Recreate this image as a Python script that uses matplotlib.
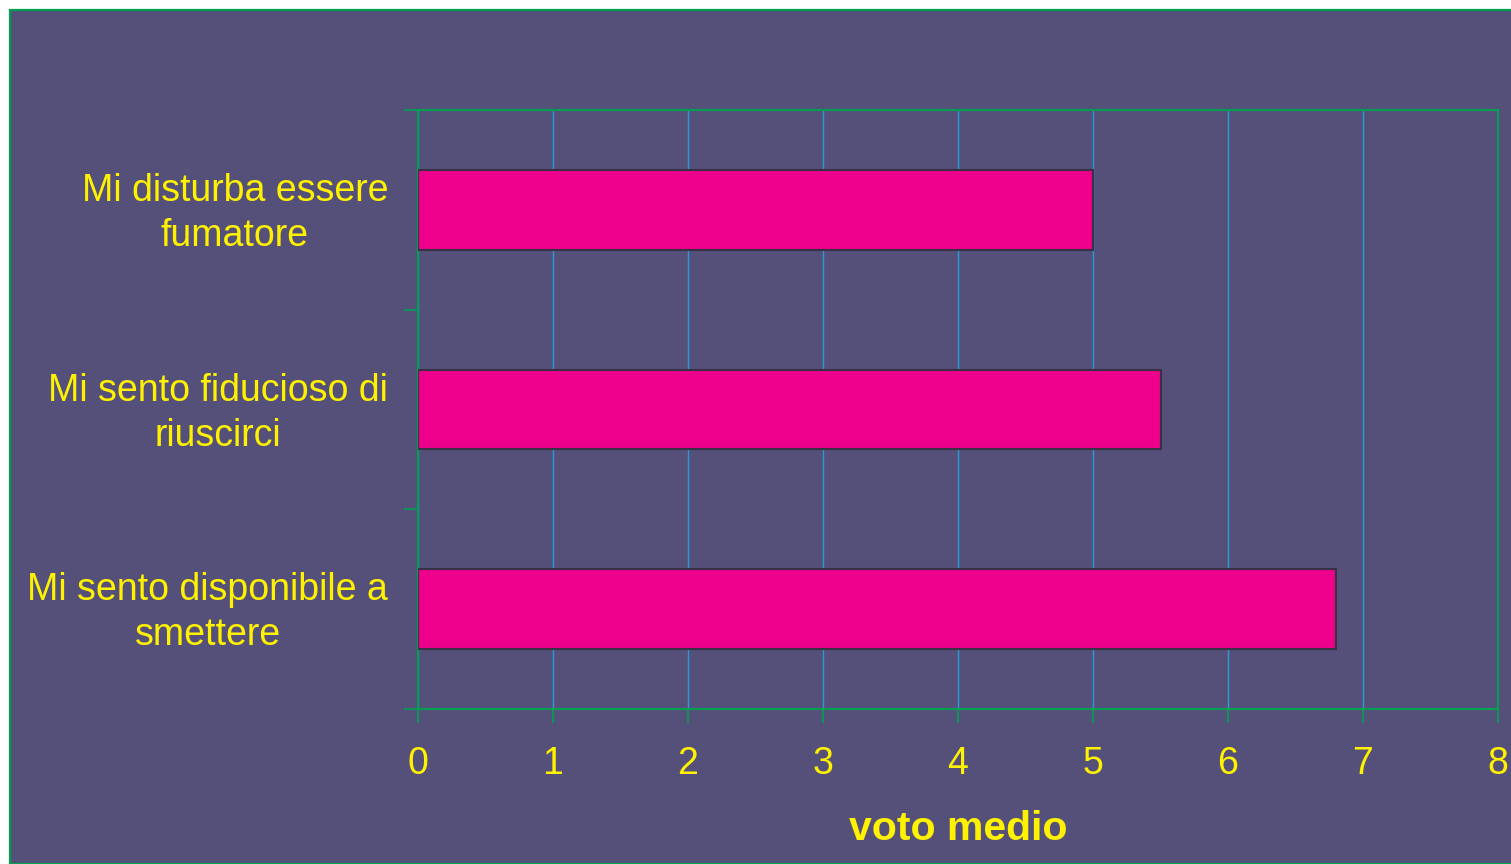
import numpy as np
import matplotlib
matplotlib.use('Agg')
import matplotlib.pyplot as plt
from matplotlib.patches import Rectangle

# data
categories = ['Mi disturba essere\nfumatore',
              'Mi sento fiducioso di\nriuscirci',
              'Mi sento disponibile a\nsmettere']
values = [5.0, 5.5, 6.8]
x_ticks = [0, 1, 2, 3, 4, 5, 6, 7, 8]

bg = '#55507A'
green = '#00A050'
yellow = '#FFF200'
grid_blue = '#2A9AD8'
bar_col = '#EC008C'

plt.rcParams['font.family'] = ['Liberation Sans', 'DejaVu Sans']

fig = plt.figure(figsize=(15.11, 8.64), dpi=100)
fig.patch.set_facecolor('white')
# purple panel with green frame
fig.patches.append(Rectangle((10 / 1511, 0), 1.2, (864 - 10) / 864, transform=fig.transFigure,
                             facecolor=bg, edgecolor=green, linewidth=1.6, zorder=-10))

ax = fig.add_axes([418 / 1511, 1 - 709 / 864, 1080 / 1511, 599 / 864])
ax.set_facecolor(bg)

# top category at top
ypos = np.arange(len(categories))[::-1]
ax.barh(ypos, values, height=0.4, color=bar_col, edgecolor='#3A3045', linewidth=1.5, zorder=3)

ax.set_xlim(0, 8)
ax.set_ylim(-0.5, len(categories) - 0.5)
ax.set_xticks(x_ticks)
ax.set_xticklabels([str(t) for t in x_ticks])
ax.xaxis.grid(True, color=grid_blue, linewidth=1.0, zorder=1)
ax.set_axisbelow(True)

# ticks at category boundaries, labels at centres (nudged up a little)
ax.set_yticks(np.arange(-0.5, len(categories), 1.0))
ax.set_yticklabels([])
ax.set_yticks(ypos + 0.025, minor=True)
ax.set_yticklabels(categories, minor=True, multialignment='center')
for lbl in ax.get_yticklabels(minor=True):
    lbl.set_linespacing(1.33)
ax.tick_params(axis='y', which='major', length=10, width=1.2, color=green, direction='out')
ax.tick_params(axis='y', which='minor', length=0, pad=21.5, labelsize=27, labelcolor=yellow)
ax.tick_params(axis='x', length=10, width=1.2, color=green, direction='out', pad=17,
               labelsize=27, labelcolor=yellow)

for s in ax.spines.values():
    s.set_color(green)
    s.set_linewidth(1.5)

ax.set_xlabel('voto medio', fontsize=29.5, fontweight='bold', color=yellow, labelpad=19.5)

fig.savefig('out.png', dpi=100, facecolor=fig.get_facecolor())
